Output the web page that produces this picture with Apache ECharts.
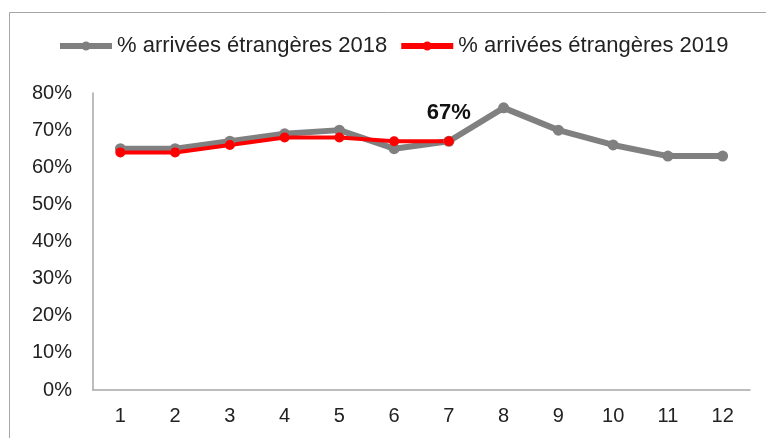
<!DOCTYPE html>
<html>
<head>
<meta charset="utf-8">
<script src="https://cdn.jsdelivr.net/npm/echarts@6/dist/echarts.min.js"></script>
<style>
    html, body {
        margin: 0;
        padding: 0;
        background: #fff;
    }
    #chart {
        width: 766px;
        height: 438px;
    }
</style>
</head>
<body>
<div id="chart"></div>
<script>
    // mois
    var months = ['1', '2', '3', '4', '5', '6', '7', '8', '9', '10', '11', '12'];
    // % arrivées étrangères
    var arrivees2018 = [65, 65, 67, 69, 70, 65, 67, 76, 70, 66, 63, 63];
    var arrivees2019 = [64, 64, 66, 68, 68, 67, 67];
    var labelled2019 = [6]; // point avec étiquette "67%"

    // icone de légende : trait épais + petit rond
    var legendIcon = 'path://M0,1.5 L52,1.5 L52,7.5 L0,7.5 Z M21.5,4.5 a4.5,4.5 0 1,1 9,0 a4.5,4.5 0 1,1 -9,0 Z';

    var chart = echarts.init(document.getElementById('chart'));

    var data2019 = arrivees2019.map(function (v, i) {
        if (labelled2019.indexOf(i) >= 0) {
            return {
                value: v,
                label: {
                    show: true,
                    position: 'top',
                    distance: 12,
                    formatter: '{c}%',
                    fontSize: 22,
                    fontWeight: 'bold',
                    color: '#111'
                }
            };
        }
        return v;
    });

    var theOptions = {
        animation: false,
        textStyle: {
            fontFamily: 'Liberation Sans, Arial, sans-serif'
        },
        graphic: [
            {
                type: 'rect',
                shape: {x: 9.5, y: 12.5, width: 800, height: 500},
                style: {fill: 'none', stroke: '#a6a6a6', lineWidth: 1},
                silent: true
            }
        ],
        legend: {
            left: 55,
            top: 30,
            itemWidth: 52,
            itemHeight: 9,
            itemGap: 14,
            textStyle: {
                fontSize: 22,
                color: '#222'
            },
            data: [
                {name: '% arrivées étrangères 2018', icon: legendIcon},
                {name: '% arrivées étrangères 2019', icon: legendIcon}
            ]
        },
        grid: {
            left: 93,
            right: 16,
            top: 93,
            bottom: 48
        },
        xAxis: {
            type: 'category',
            data: months,
            boundaryGap: true,
            axisLine: {lineStyle: {color: '#a6a6a6', width: 1.5}},
            axisTick: {show: false},
            axisLabel: {
                fontSize: 20,
                color: '#222',
                margin: 16
            }
        },
        yAxis: {
            type: 'value',
            min: 0,
            max: 80,
            interval: 10,
            splitLine: {show: false},
            axisLine: {show: true, lineStyle: {color: '#a6a6a6', width: 1.5}},
            axisTick: {show: false},
            axisLabel: {
                formatter: '{value}%',
                fontSize: 20,
                color: '#222',
                margin: 21
            }
        },
        series: [
            {
                name: '% arrivées étrangères 2018',
                type: 'line',
                data: arrivees2018,
                symbol: 'circle',
                symbolSize: 11,
                itemStyle: {color: '#808080'},
                lineStyle: {color: '#808080', width: 6}
            },
            {
                name: '% arrivées étrangères 2019',
                type: 'line',
                data: data2019,
                symbol: 'circle',
                symbolSize: 10,
                itemStyle: {color: '#ff0000'},
                lineStyle: {color: '#ff0000', width: 4}
            }
        ]
    };
    chart.setOption(theOptions);
</script>
</body>
</html>
